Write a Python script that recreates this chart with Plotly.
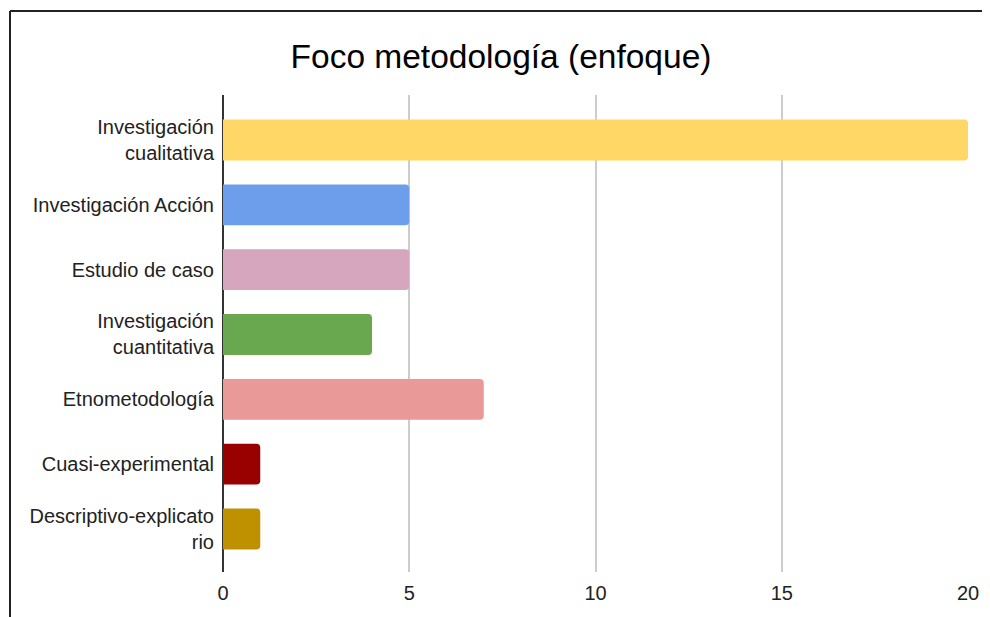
import plotly.graph_objects as go

categories = [
    "Investigación<br>cualitativa",
    "Investigación Acción",
    "Estudio de caso",
    "Investigación<br>cuantitativa",
    "Etnometodología",
    "Cuasi-experimental",
    "Descriptivo-explicato<br>rio",
]
values = [20, 5, 5, 4, 7, 1, 1]
x_ticks = [0, 5, 10, 15, 20]

bar_colors = ["#fed767", "#6d9eeb", "#d5a6bd", "#6aa84f", "#ea9999", "#990000", "#bf9000"]

# page body has an 8px offset; compensate so the figure lands where the reference is
OFF = 8
W, H = 990 - OFF, 617 - OFF
L, R, T, B = 223 - OFF, 22, 95 - OFF, 45
pw = W - L - R
ph = H - T - B

fig = go.Figure(
    go.Bar(
        y=categories,
        x=values,
        orientation="h",
        marker=dict(color=bar_colors, line=dict(width=0), cornerradius=4),
        width=0.63,
        hoverinfo="x+y",
    )
)

def px_x(p):
    return (p - OFF - L) / pw

def px_y(p):
    return (H - B - (p - OFF)) / ph

border = dict(color="#222222", width=2)
fig.add_shape(type="line", xref="paper", yref="paper",
              x0=px_x(10), x1=px_x(1000), y0=px_y(11), y1=px_y(11), line=border)
fig.add_shape(type="line", xref="paper", yref="paper",
              x0=px_x(10), x1=px_x(10), y0=px_y(11), y1=px_y(630), line=border)

fig.update_layout(
    width=W,
    height=H,
    margin=dict(l=L, r=R, t=T, b=B),
    paper_bgcolor="white",
    plot_bgcolor="white",
    font=dict(family="Liberation Sans, Arial, sans-serif", size=20, color="#222222"),
    title=dict(
        text="Foco metodología (enfoque)",
        font=dict(size=33.5, color="#000000"),
        xref="container", x=(501 - OFF) / W, xanchor="center",
        yref="container", y=1 - (56 - OFF) / H, yanchor="middle",
    ),
    showlegend=False,
)
fig.update_xaxes(
    range=[0, 20],
    tickvals=x_ticks,
    ticktext=[str(v) for v in x_ticks],
    showgrid=True,
    gridcolor="#cccccc",
    gridwidth=1.5,
    zeroline=True,
    zerolinecolor="#333333",
    zerolinewidth=1.5,
    showline=False,
    ticks="",
    ticklabelstandoff=7,
    fixedrange=True,
)
fig.update_yaxes(
    type="category",
    categoryorder="array",
    categoryarray=categories,
    range=[6.664, -0.694],
    showgrid=False,
    zeroline=False,
    showline=False,
    ticks="",
    ticklabelstandoff=8,
    fixedrange=True,
)

fig.write_html("out.html")
